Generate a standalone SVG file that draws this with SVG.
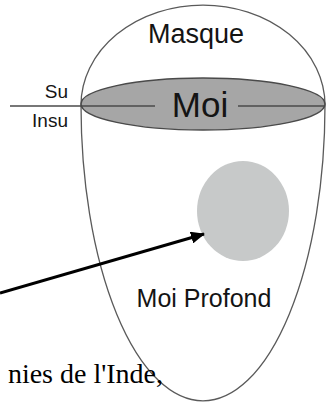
<svg xmlns="http://www.w3.org/2000/svg" width="326" height="403" viewBox="0 0 326 403">
<style>
.sans{font-family:"Liberation Sans",Arial,sans-serif;fill:#141414}
.outline{fill:none;stroke:#5a5a5a;stroke-width:1.3}
.divider{stroke:#4a4a4a;stroke-width:1.4}
</style>
<defs>
<marker id="ah" markerWidth="14" markerHeight="12" refX="13" refY="6" orient="auto" markerUnits="userSpaceOnUse">
<path d="M0,0 L14,6 L0,12 Z" fill="#000"/>
</marker>
</defs>
<rect width="326" height="403" fill="#fff"/>
<g id="masque">
<path class="outline" d="M81,105 A122,100 0 0 1 325,105 A122,296 0 0 1 81,105 Z"/>
<text class="sans" x="196" y="43" font-size="27" text-anchor="middle">Masque</text>
</g>
<g id="moi">
<ellipse cx="203" cy="104" rx="122" ry="26" fill="#a6a6a6" stroke="#4a4a4a" stroke-width="1.5"/>
<line class="divider" x1="10" y1="106" x2="155" y2="106"/>
<line class="divider" x1="238" y1="106" x2="325" y2="106"/>
<text class="sans" x="200" y="117" font-size="35" text-anchor="middle">Moi</text>
</g>
<g id="labels">
<text class="sans" x="68" y="98" font-size="19" text-anchor="end">Su</text>
<text class="sans" x="68" y="127" font-size="19" text-anchor="end">Insu</text>
</g>
<g id="moi-profond">
<ellipse cx="243" cy="211" rx="46" ry="50" fill="#c7c9c9"/>
<text class="sans" x="204" y="307" font-size="25" text-anchor="middle">Moi Profond</text>
</g>
<g id="connectors">
<line x1="0" y1="293" x2="204" y2="234" stroke="#000" stroke-width="3" marker-end="url(#ah)"/>
</g>
<text x="163" y="383" font-family="'Liberation Serif','Times New Roman',serif" font-size="28" text-anchor="end" fill="#000">nies de l'Inde,</text>
</svg>
